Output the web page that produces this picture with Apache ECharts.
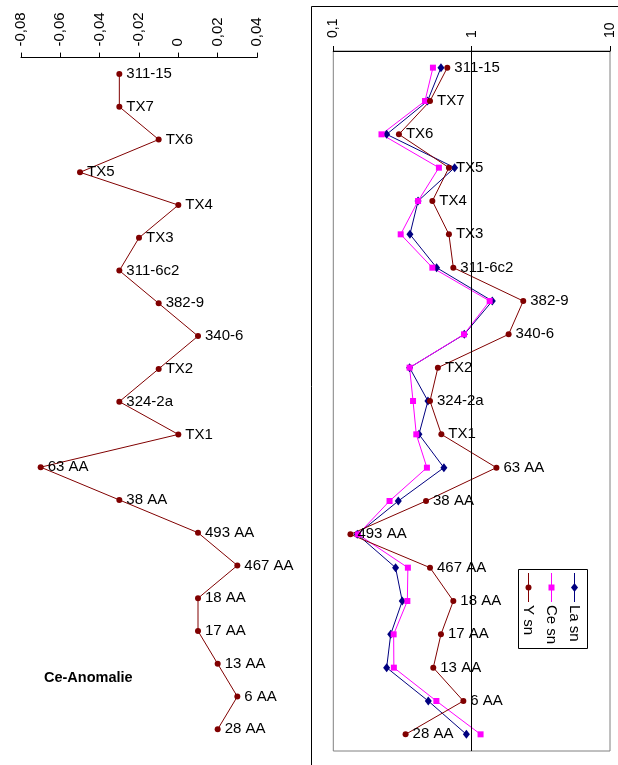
<!DOCTYPE html>
<html>
<head>
<meta charset="utf-8">
<script src="https://cdn.jsdelivr.net/npm/echarts@6/dist/echarts.min.js"></script>
<style>
  html, body { margin: 0; padding: 0; background: #fff; }
  #chart { width: 618px; height: 765px; }
</style>
</head>
<body>
<div id="chart"></div>
<script>
// Proben (von oben nach unten)
const samples = ["311-15", "TX7", "TX6", "TX5", "TX4", "TX3", "311-6c2", "382-9", "340-6", "TX2",
  "324-2a", "TX1", "63 AA", "38 AA", "493 AA", "467 AA", "18 AA", "17 AA", "13 AA", "6 AA", "28 AA"];

// linkes Panel: Ce-Anomalie
const ceAnomaly = [-0.03, -0.03, -0.01, -0.05, 0.0, -0.02, -0.03, -0.01, 0.01, -0.01,
  -0.03, 0.0, -0.07, -0.03, 0.01, 0.03, 0.01, 0.01, 0.02, 0.03, 0.02];

// rechtes Panel: normierte Gehalte (log)
const laSn = [0.60, 0.48, 0.243, 0.753, 0.41, 0.358, 0.558, 1.41, 0.885, 0.356,
  0.483, 0.416, 0.63, 0.295, 0.149, 0.282, 0.315, 0.26, 0.243, 0.486, 0.916];
const ceSn = [0.525, 0.46, 0.223, 0.58, 0.41, 0.307, 0.52, 1.35, 0.88, 0.356,
  0.377, 0.398, 0.475, 0.255, 0.151, 0.346, 0.343, 0.273, 0.274, 0.556, 1.16];
const ySn = [0.667, 0.50, 0.298, 0.685, 0.52, 0.685, 0.737, 2.36, 1.85, 0.57,
  0.50, 0.604, 1.51, 0.468, 0.133, 0.50, 0.737, 0.60, 0.528, 0.871, 0.333];

const seriesNames = ["La sn", "Ce sn", "Y sn"];
const anomalyTicks = [-0.08, -0.06, -0.04, -0.02, 0, 0.02, 0.04];
const logTicks = [0.1, 1, 10];

const FONT = "Liberation Sans, Arial, sans-serif";
const RED = "#800000", NAVY = "#000080", MAGENTA = "#ff00ff";
const comma = (v) => String(v).replace(".", ",");

const chart = echarts.init(document.getElementById("chart"));

const axisCommon = {
  position: "top",
  axisLine: { show: true, onZero: false, lineStyle: { color: "#000", width: 1 } },
  axisTick: { show: true, length: 5, lineStyle: { color: "#000" } },
  splitLine: { show: false },
};

// Legende: gedreht wie im Original (Text von oben nach unten)
const legendX = [574.5, 551.5, 528.5];
const legendGraphics = [
  { type: "rect", shape: { x: 518.5, y: 569.5, width: 69, height: 79 },
    style: { fill: "#fff", stroke: "#000", lineWidth: 1 }, z: 10 },
];
seriesNames.forEach((name, i) => {
  const x = legendX[i], color = [NAVY, MAGENTA, RED][i];
  legendGraphics.push({ type: "line", shape: { x1: x, y1: 573, x2: x, y2: 602 },
    style: { stroke: color, lineWidth: 1 }, z: 11 });
  if (i === 0) legendGraphics.push({ type: "polygon",
    shape: { points: [[x, 583], [x + 3.5, 587.5], [x, 592], [x - 3.5, 587.5]] }, style: { fill: color }, z: 12 });
  else if (i === 1) legendGraphics.push({ type: "rect",
    shape: { x: x - 3, y: 584.5, width: 6, height: 6 }, style: { fill: color }, z: 12 });
  else legendGraphics.push({ type: "circle", shape: { cx: x, cy: 587.5, r: 3 }, style: { fill: color }, z: 12 });
  legendGraphics.push({ type: "text", x: x, y: 605, rotation: -Math.PI / 2,
    style: { text: name, font: "15px " + FONT, fill: "#000", align: "left", verticalAlign: "middle" }, z: 12 });
});

chart.setOption({
  animation: false,
  textStyle: { fontFamily: FONT },
  title: {
    text: "Ce-Anomalie", left: 44, top: 670, padding: 0,
    textStyle: { fontSize: 14.5, fontWeight: "bold", color: "#000", fontFamily: FONT },
  },
  grid: [
    { left: 21, right: 361, top: 57.6, bottom: 19.3, show: false },
    { left: 333.3, right: 8, top: 51, bottom: 14, show: true, borderColor: "#808080", borderWidth: 1, backgroundColor: "transparent" },
  ],
  xAxis: [
    { ...axisCommon, gridIndex: 0, type: "value",
      min: anomalyTicks[0], max: anomalyTicks[anomalyTicks.length - 1], interval: 0.02,
      axisLabel: { rotate: -90, margin: 11, color: "#000", fontSize: 15, fontFamily: FONT,
        formatter: (v) => (Math.abs(v) < 1e-9 ? "0" : v.toFixed(2).replace(".", ",")) } },
    { ...axisCommon, gridIndex: 1, type: "log", logBase: 10,
      min: logTicks[0], max: logTicks[logTicks.length - 1],
      axisLabel: { rotate: -90, margin: 13, color: "#000", fontSize: 14, fontFamily: FONT, formatter: comma } },
  ],
  yAxis: [
    { gridIndex: 0, type: "category", inverse: true, data: samples, show: false },
    { gridIndex: 1, type: "category", inverse: true, data: samples, show: false },
  ],
  series: [
    {
      name: "Ce-Anomalie", type: "line", xAxisIndex: 0, yAxisIndex: 0,
      data: ceAnomaly.map((v, i) => [v, samples[i]]),
      symbol: "circle", symbolSize: 6,
      lineStyle: { color: RED, width: 1 }, itemStyle: { color: RED },
      label: { show: true, position: "right", distance: 4, color: "#000", fontSize: 15, fontFamily: FONT,
        formatter: (p) => p.value[1] },
    },
    {
      name: seriesNames[0], type: "line", xAxisIndex: 1, yAxisIndex: 1,
      data: laSn.map((v, i) => [v, samples[i]]),
      symbol: "diamond", symbolSize: [7, 9],
      lineStyle: { color: NAVY, width: 1 }, itemStyle: { color: NAVY },
      markLine: {
        silent: true, symbol: "none", label: { show: false },
        lineStyle: { color: "#000", width: 1, type: "solid" },
        data: [{ xAxis: 1 }],
      },
    },
    {
      name: seriesNames[1], type: "line", xAxisIndex: 1, yAxisIndex: 1,
      data: ceSn.map((v, i) => [v, samples[i]]),
      symbol: "rect", symbolSize: 6,
      lineStyle: { color: MAGENTA, width: 1 }, itemStyle: { color: MAGENTA },
    },
    {
      name: seriesNames[2], type: "line", xAxisIndex: 1, yAxisIndex: 1,
      data: ySn.map((v, i) => [v, samples[i]]),
      symbol: "circle", symbolSize: 6,
      lineStyle: { color: RED, width: 1 }, itemStyle: { color: RED },
      label: { show: true, position: "right", distance: 4, color: "#000", fontSize: 15, fontFamily: FONT,
        formatter: (p) => p.value[1] },
    },
  ],
  graphic: [
    { type: "rect", shape: { x: 311.5, y: 6.5, width: 400, height: 800 },
      style: { fill: "none", stroke: "#000", lineWidth: 1 }, silent: true, z: -1 },
    ...legendGraphics,
  ],
});
</script>
</body>
</html>
